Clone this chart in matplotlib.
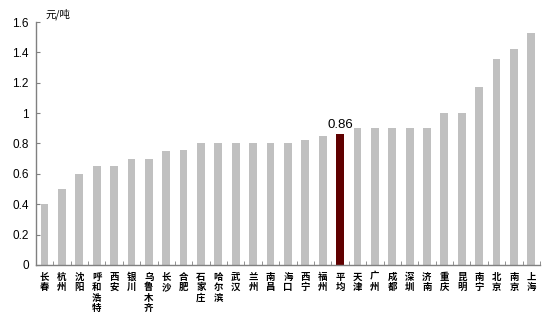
import matplotlib
matplotlib.use("Agg")
import matplotlib.pyplot as plt
import numpy as np

cities = ["长春", "杭州", "沈阳", "呼和浩特", "西安", "银川", "乌鲁木齐", "长沙", "合肥",
          "石家庄", "哈尔滨", "武汉", "兰州", "南昌", "海口", "西宁", "福州", "平均",
          "天津", "广州", "成都", "深圳", "济南", "重庆", "昆明", "南宁", "北京", "南京", "上海"]
values = [0.40, 0.50, 0.60, 0.65, 0.65, 0.70, 0.70, 0.75, 0.76,
          0.80, 0.80, 0.80, 0.80, 0.80, 0.80, 0.82, 0.85, 0.86,
          0.90, 0.90, 0.90, 0.90, 0.90, 1.00, 1.00, 1.17, 1.36, 1.42, 1.53]
highlight = "平均"
yticks = [0, 0.2, 0.4, 0.6, 0.8, 1, 1.2, 1.4, 1.6]
ytick_labels = ["0", "0.2", "0.4", "0.6", "0.8", "1", "1.2", "1.4", "1.6"]

plt.rcParams['font.family'] = ['Noto Sans CJK SC', 'DejaVu Sans']

fig = plt.figure(figsize=(5.51, 3.25), dpi=100)
ax = fig.add_axes([0.065, 0.185, 0.915, 0.747])

x = np.arange(len(cities))
colors = ["#600000" if c == highlight else "#C0C0C0" for c in cities]
ax.bar(x, values, width=0.45, color=colors, zorder=2)

hi = cities.index(highlight)
ax.text(hi, values[hi] + 0.025, f"{values[hi]:.2f}", ha="center", va="bottom",
        fontsize=9.5, family=["Liberation Sans"], color="black")

ax.set_xlim(-0.5, len(cities) - 0.5)
ax.set_ylim(0, 1.6)
ax.set_yticks(yticks)
ax.set_yticklabels(ytick_labels, family=["Liberation Sans"], fontsize=8.5)

ax.set_xticks(x)
ax.set_xticklabels(["\n".join(c) for c in cities], fontsize=6.8, linespacing=1.05,
                   va="top", fontweight="bold")
ax.tick_params(axis="x", length=0, pad=5)
ax.set_xticks(np.arange(len(cities) + 1) - 0.5, minor=True)
ax.tick_params(axis="x", which="minor", direction="in", length=3, color="#808080")
ax.tick_params(axis="y", direction="in", length=3, color="#808080", pad=5)

for s in ["top", "right"]:
    ax.spines[s].set_visible(False)
for s in ["left", "bottom"]:
    ax.spines[s].set_color("#808080")
    ax.spines[s].set_linewidth(1.0)

fig.text(0.083, 0.955, "元/吨", fontsize=7.5, style="italic", ha="left", va="center")

fig.savefig("out.png", dpi=100)
